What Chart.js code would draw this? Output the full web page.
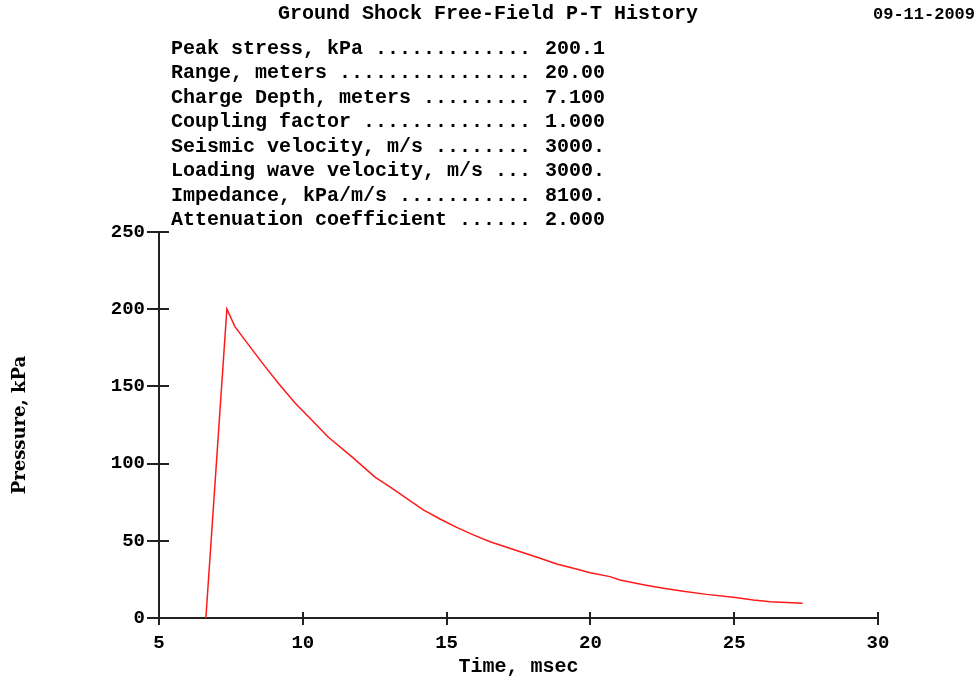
<!DOCTYPE html>
<html>
<head>
<meta charset="utf-8">
<script src="https://cdn.jsdelivr.net/npm/chart.js@4.4.1/dist/chart.umd.min.js"></script>
<style>
  html, body { margin: 0; padding: 0; background: #ffffff; }
  #wrap { position: relative; width: 976px; height: 679px; overflow: hidden; }
  #chart { position: absolute; left: 0; top: 0; }
  .txt { position: absolute; font-family: "Liberation Mono", "DejaVu Sans Mono", monospace; font-weight: bold; color: #000; white-space: pre; font-size: 20px; line-height: 24px; }
</style>
</head>
<body>
<div id="wrap">
  <canvas id="chart" width="976" height="679"></canvas>
  <div id="title" class="txt" style="left:0; width:976px; text-align:center; top:2px;"></div>
  <div id="date" class="txt" style="left:873px; top:3px; font-size:17px;"></div>
  <div id="paramNamesBox" class="txt" style="left:171px; top:37px; line-height:24.45px;"></div>
  <div id="paramValuesBox" class="txt" style="left:545px; top:37px; line-height:24.45px;"></div>
</div>
<script>
// ---- data ----
const chartTitle = "Ground Shock Free-Field P-T History";
const chartDate = "09-11-2009";
const paramNames = [
  "Peak stress, kPa",
  "Range, meters",
  "Charge Depth, meters",
  "Coupling factor",
  "Seismic velocity, m/s",
  "Loading wave velocity, m/s",
  "Impedance, kPa/m/s",
  "Attenuation coefficient"
];
const paramValues = ["200.1", "20.00", "7.100", "1.000", "3000.", "3000.", "8100.", "2.000"];

const timeMs = [6.63, 7.36, 7.64, 7.99, 8.34, 8.69, 9.15, 9.73, 10.31, 10.88, 11.70, 12.51, 13.03, 13.61, 14.19, 14.77, 15.35, 15.93, 16.51, 17.09, 17.67, 18.25, 18.83, 19.41, 19.99, 20.68, 21.03, 21.84, 22.54, 23.23, 24.04, 24.97, 25.67, 26.25, 27.38];
const pressureKPa = [0, 200.1, 188.7, 180, 171.4, 162.8, 152, 139.2, 128.2, 117.2, 104.5, 91.3, 85, 77.5, 70, 64.1, 58.7, 53.8, 49.4, 45.8, 42.3, 38.7, 35, 32.2, 29.3, 26.8, 24.6, 21.6, 19.2, 17.3, 15.3, 13.4, 11.7, 10.6, 9.5];

const xTitle = "Time, msec";
const yTitle = "Pressure, kPa";
const xMin = 5, xMax = 30, xStep = 5;
const yMin = 0, yMax = 250, yStep = 50;

// ---- text ----
document.getElementById('title').textContent = chartTitle;
document.getElementById('date').textContent = chartDate;
document.getElementById('paramNamesBox').textContent =
  paramNames.map(n => n + " " + ".".repeat(Math.max(3, 29 - n.length))).join("\n");
document.getElementById('paramValuesBox').textContent = paramValues.join("\n");

// ---- inner tick halves ----
const innerTicks = {
  id: 'innerTicks',
  afterDraw(chart) {
    const ctx = chart.ctx, ca = chart.chartArea;
    const xs = chart.scales.x, ys = chart.scales.y;
    ctx.save();
    ctx.strokeStyle = '#222';
    ctx.lineWidth = 2;
    ctx.beginPath();
    ys.ticks.forEach(t => {
      const py = Math.round(ys.getPixelForValue(t.value));
      ctx.moveTo(ca.left, py); ctx.lineTo(ca.left + 10, py);
    });
    xs.ticks.forEach(t => {
      const px = Math.round(xs.getPixelForValue(t.value));
      ctx.moveTo(px, ca.bottom); ctx.lineTo(px, ca.bottom - 6);
    });
    ctx.stroke();
    ctx.restore();
  }
};

const monoFont = { family: '"Liberation Mono", "DejaVu Sans Mono", monospace', weight: 'bold', size: 20 };

new Chart(document.getElementById('chart'), {
  type: 'line',
  data: {
    datasets: [{
      data: timeMs.map((t, i) => ({ x: t, y: pressureKPa[i] })),
      borderColor: '#ff1a1a',
      borderWidth: 1.5,
      pointRadius: 0,
      tension: 0,
      fill: false
    }]
  },
  options: {
    responsive: false,
    animation: false,
    events: [],
    layout: { padding: { top: 232, right: 98, left: 0, bottom: 0 } },
    plugins: { legend: { display: false }, tooltip: { enabled: false }, title: { display: false } },
    scales: {
      x: {
        type: 'linear', min: xMin, max: xMax,
        afterFit(scale) { scale.height = 61; },
        ticks: { stepSize: xStep, color: '#000', font: { ...monoFont, size: 19 }, padding: 7, maxRotation: 0 },
        grid: { drawOnChartArea: false, drawTicks: true, tickLength: 7, color: '#222', lineWidth: 2 },
        border: { display: true, color: '#222', width: 2 },
        title: { display: true, text: xTitle, color: '#000', font: { ...monoFont, size: 20 }, padding: { top: 0, bottom: 0 } }
      },
      y: {
        type: 'linear', min: yMin, max: yMax,
        afterFit(scale) { scale.width = 159; },
        ticks: { stepSize: yStep, color: '#000', font: { ...monoFont, size: 19 }, padding: 2 },
        grid: { drawOnChartArea: false, drawTicks: true, tickLength: 12, color: '#222', lineWidth: 2 },
        border: { display: true, color: '#222', width: 2 },
        title: { display: true, text: yTitle, color: '#000', font: { family: '"DejaVu Serif", "Liberation Serif", serif', weight: 'bold', size: 18 }, padding: { top: 10, bottom: 0 } }
      }
    }
  },
  plugins: [innerTicks]
});
</script>
</body>
</html>
